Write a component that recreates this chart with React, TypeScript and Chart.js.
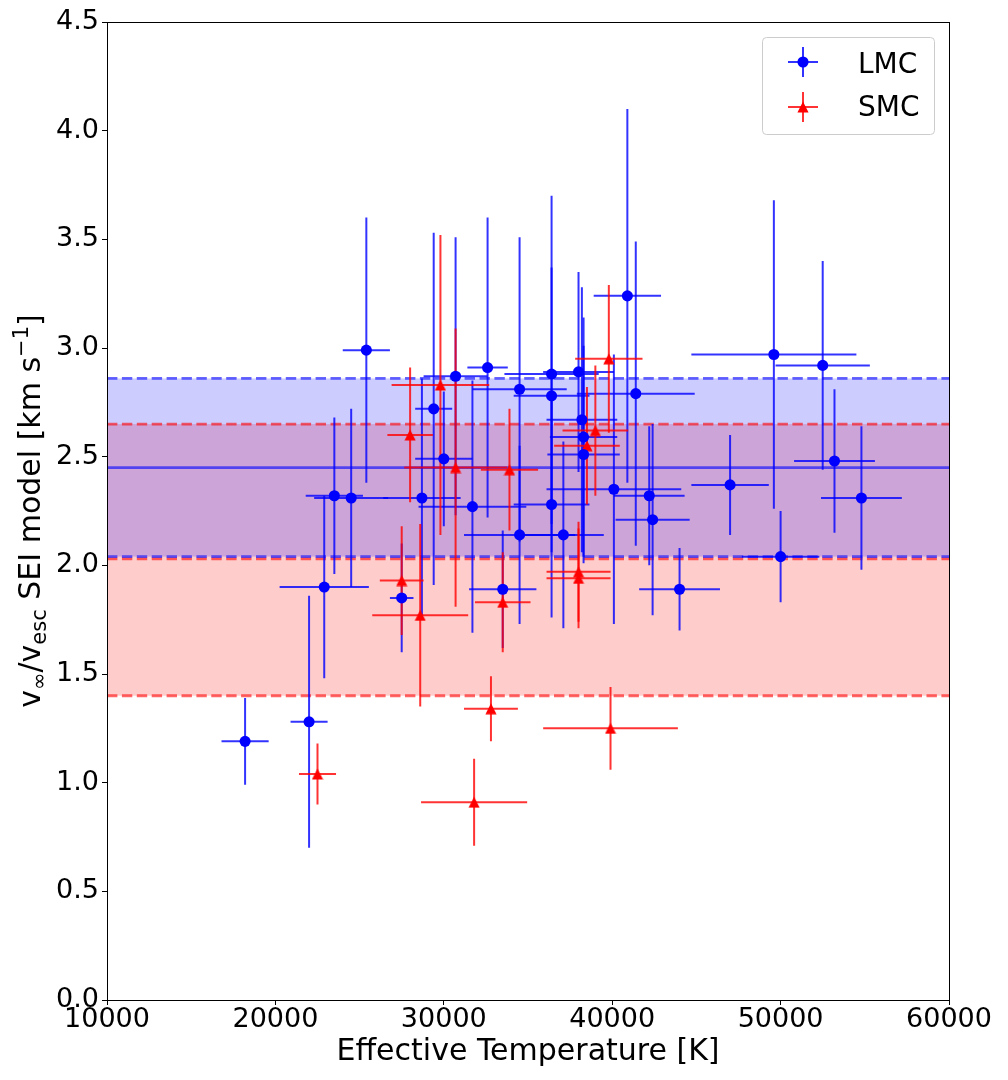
import { useEffect, useRef } from 'react';
import { Chart, registerables } from 'chart.js';

Chart.register(...registerables);

// LMC stars: effective temperature [K], v_inf / v_esc, and their errors
const lmcTeff = [18200, 22000, 22900, 23500, 24500, 25400, 27500, 28700, 29400, 30000, 30700, 31700, 32600, 33500, 34500, 34500, 36400, 36400, 36400, 37100, 38000, 38200, 38300, 38300, 40100, 40900, 41400, 42200, 42400, 44000, 47000, 49600, 50000, 52500, 53200, 54800];
const lmcTeffErr = [1400, 1100, 2650, 1700, 2200, 1400, 700, 2300, 1100, 1700, 1900, 3200, 1200, 2000, 2800, 3300, 2800, 2250, 2250, 2400, 2100, 2100, 2000, 2150, 4000, 2000, 3500, 2100, 2200, 2400, 2300, 4900, 2300, 2800, 2400, 2400];
const lmcRatio = [1.19, 1.28, 1.9, 2.32, 2.31, 2.99, 1.85, 2.31, 2.72, 2.49, 2.87, 2.27, 2.91, 1.89, 2.81, 2.14, 2.88, 2.78, 2.28, 2.14, 2.89, 2.67, 2.59, 2.51, 2.35, 3.24, 2.79, 2.32, 2.21, 1.89, 2.37, 2.97, 2.04, 2.92, 2.48, 2.31];
const lmcRatioErr = [0.2, 0.58, 0.42, 0.36, 0.41, 0.61, 0.25, 0.55, 0.81, 0.31, 0.64, 0.58, 0.69, 0.27, 0.7, 0.41, 0.82, 0.59, 0.52, 0.43, 0.46, 0.61, 0.55, 0.5, 0.62, 0.86, 0.7, 0.32, 0.44, 0.19, 0.23, 0.71, 0.21, 0.48, 0.33, 0.33];

// SMC stars
const smcTeff = [22500, 27500, 28000, 28600, 29800, 30700, 31800, 32800, 33500, 33900, 38000, 38000, 38500, 39000, 39800, 39900];
const smcTeffErr = [1100, 1300, 1350, 2850, 2900, 3050, 3150, 1600, 1650, 1700, 1900, 1900, 1950, 1950, 2000, 4000];
const smcRatio = [1.04, 1.93, 2.6, 1.77, 2.83, 2.45, 0.91, 1.34, 1.83, 2.44, 1.97, 1.94, 2.55, 2.62, 2.95, 1.25];
const smcRatioErr = [0.14, 0.25, 0.31, 0.42, 0.69, 0.64, 0.2, 0.15, 0.23, 0.28, 0.23, 0.23, 0.27, 0.3, 0.34, 0.19];

// mean and spread of each sample
const lmcMean = 2.45;
const lmcBand = [2.04, 2.86];
const smcMean = 2.03;
const smcBand = [1.4, 2.65];

const xRange = [10000, 60000];
const yRange = [0, 4.5];

const FONT = 'DejaVu Sans';
const BLUE_BAR = 'rgba(0,0,255,0.8)';
const RED_BAR = 'rgba(255,0,0,0.8)';

// matplotlib style '^' marker
function makeTriangle(color: string) {
  const c = document.createElement('canvas');
  c.width = 12;
  c.height = 12;
  const g = c.getContext('2d')!;
  g.fillStyle = color;
  g.beginPath();
  g.moveTo(6, 0.45);
  g.lineTo(0.45, 11.55);
  g.lineTo(11.55, 11.55);
  g.closePath();
  g.fill();
  return c;
}

let triangleMarker: HTMLCanvasElement | null = null;

const series = [
  { t: lmcTeff, tErr: lmcTeffErr, v: lmcRatio, vErr: lmcRatioErr, color: BLUE_BAR },
  { t: smcTeff, tErr: smcTeffErr, v: smcRatio, vErr: smcRatioErr, color: RED_BAR },
];

const backdropPlugin = {
  id: 'backdrop',
  beforeDatasetsDraw(chart: any) {
    const { ctx, chartArea: a, scales } = chart;
    const x = scales.x;
    const y = scales.y;
    ctx.save();
    ctx.beginPath();
    ctx.rect(a.left, a.top, a.right - a.left, a.bottom - a.top);
    ctx.clip();

    const band = (lo: number, hi: number, color: string) => {
      const y1 = y.getPixelForValue(hi);
      const y2 = y.getPixelForValue(lo);
      ctx.fillStyle = color;
      ctx.fillRect(a.left, y1, a.right - a.left, y2 - y1);
    };
    band(smcBand[0], smcBand[1], 'rgba(255,0,0,0.2)');
    band(lmcBand[0], lmcBand[1], 'rgba(0,0,255,0.2)');

    const hline = (v: number, color: string, dashed: boolean) => {
      const py = y.getPixelForValue(v);
      ctx.strokeStyle = color;
      ctx.lineWidth = 2.8;
      ctx.setLineDash(dashed ? [10.4, 4.5] : []);
      ctx.beginPath();
      ctx.moveTo(a.left, py);
      ctx.lineTo(a.right, py);
      ctx.stroke();
    };
    hline(smcBand[1], 'rgba(255,0,0,0.6)', true);
    hline(smcMean, 'rgba(255,0,0,0.6)', true);
    hline(smcBand[0], 'rgba(255,0,0,0.6)', true);
    hline(lmcBand[1], 'rgba(0,0,255,0.6)', true);
    hline(lmcMean, 'rgba(0,0,255,0.6)', false);
    hline(lmcBand[0], 'rgba(0,0,255,0.6)', true);
    ctx.setLineDash([]);

    // error bars
    ctx.lineWidth = 2;
    series.forEach((s) => {
      ctx.strokeStyle = s.color;
      s.t.forEach((t, i) => {
        const px = x.getPixelForValue(t);
        const py = y.getPixelForValue(s.v[i]);
        ctx.beginPath();
        ctx.moveTo(x.getPixelForValue(t - s.tErr[i]), py);
        ctx.lineTo(x.getPixelForValue(t + s.tErr[i]), py);
        ctx.moveTo(px, y.getPixelForValue(s.v[i] - s.vErr[i]));
        ctx.lineTo(px, y.getPixelForValue(s.v[i] + s.vErr[i]));
        ctx.stroke();
      });
    });
    ctx.restore();
  },
  afterDraw(chart: any) {
    const { ctx, chartArea: a } = chart;
    ctx.save();
    // frame
    ctx.strokeStyle = '#000';
    ctx.lineWidth = 1;
    ctx.strokeRect(Math.round(a.left) + 0.5, Math.round(a.top) + 0.5, Math.round(a.right - a.left), Math.round(a.bottom - a.top));

    // x title
    ctx.fillStyle = '#000';
    ctx.font = `30px "${FONT}"`;
    ctx.textAlign = 'center';
    ctx.textBaseline = 'alphabetic';
    ctx.fillText('Effective Temperature [K]', (a.left + a.right) / 2, a.bottom + 60);

    // y title with sub/superscripts
    const big = `30px "${FONT}"`;
    const small = `21px "${FONT}"`;
    const parts: [string, string, number][] = [
      ['v', big, 0],
      ['\u221e', small, 6],
      ['/', big, 0],
      ['v', big, 0],
      ['esc', small, 6],
      [' SEI model [km s', big, 0],
      ['\u22121', small, -12],
      [']', big, 0],
    ];
    let total = 0;
    parts.forEach(([txt, f]) => {
      ctx.font = f;
      total += ctx.measureText(txt).width;
    });
    ctx.translate(40, (a.top + a.bottom) / 2);
    ctx.rotate(-Math.PI / 2);
    ctx.textAlign = 'left';
    let cx = -total / 2;
    parts.forEach(([txt, f, dy]) => {
      ctx.font = f;
      ctx.fillText(txt, cx, dy);
      cx += ctx.measureText(txt).width;
    });
    ctx.restore();

    // legend
    ctx.save();
    const bx = a.right - 187;
    const by = a.top + 15;
    ctx.fillStyle = 'rgba(255,255,255,0.8)';
    ctx.strokeStyle = '#cccccc';
    ctx.lineWidth = 1;
    ctx.beginPath();
    ctx.roundRect(bx + 0.5, by + 0.5, 172, 97, 4);
    ctx.fill();
    ctx.stroke();
    const entries = [
      { label: 'LMC', bar: BLUE_BAR, dy: 25, text: 36 },
      { label: 'SMC', bar: RED_BAR, dy: 70, text: 79 },
    ];
    entries.forEach((e, i) => {
      const mx = bx + 41;
      const my = by + e.dy;
      ctx.strokeStyle = e.bar;
      ctx.lineWidth = 2;
      ctx.beginPath();
      ctx.moveTo(mx - 15, my);
      ctx.lineTo(mx + 15, my);
      ctx.moveTo(mx, my - 15);
      ctx.lineTo(mx, my + 15);
      ctx.stroke();
      if (i === 0) {
        ctx.fillStyle = '#0000ff';
        ctx.beginPath();
        ctx.arc(mx, my, 5.55, 0, Math.PI * 2);
        ctx.fill();
      } else if (triangleMarker) {
        ctx.drawImage(triangleMarker, mx - 6, my - 6);
      }
      ctx.fillStyle = '#000';
      ctx.font = `28px "${FONT}"`;
      ctx.textAlign = 'left';
      ctx.textBaseline = 'alphabetic';
      ctx.fillText(e.label, bx + 96, by + e.text);
    });
    ctx.restore();
  },
};

export default function App() {
  const canvasRef = useRef<HTMLCanvasElement>(null);

  useEffect(() => {
    if (!canvasRef.current) return;
    triangleMarker = makeTriangle('#ff0000');
    const tickFont = { family: FONT, size: 27, lineHeight: 1 };
    const chart = new Chart(canvasRef.current, {
      type: 'scatter',
      data: {
        datasets: [
          {
            label: 'LMC',
            data: lmcTeff.map((t, i) => ({ x: t, y: lmcRatio[i] })),
            pointStyle: 'circle',
            pointRadius: 5.55,
            pointBackgroundColor: '#0000ff',
            pointBorderWidth: 0,
          },
          {
            label: 'SMC',
            data: smcTeff.map((t, i) => ({ x: t, y: smcRatio[i] })),
            pointStyle: triangleMarker,
            pointRadius: 6,
            pointBorderWidth: 0,
          },
        ],
      },
      options: {
        animation: false,
        responsive: true,
        maintainAspectRatio: false,
        devicePixelRatio: 1,
        layout: { padding: { top: 22, right: 59, left: 0, bottom: 0 } },
        plugins: {
          legend: { display: false },
          tooltip: { enabled: false },
        },
        scales: {
          x: {
            type: 'linear',
            min: xRange[0],
            max: xRange[1],
            afterFit: (s: any) => {
              s.height = 80;
            },
            grid: { display: true, drawOnChartArea: false, drawTicks: true, tickLength: 5, color: '#000' },
            border: { display: false },
            ticks: {
              stepSize: 10000,
              maxRotation: 0,
              autoSkip: false,
              padding: 1,
              color: '#000',
              font: tickFont,
              callback: (v: any) => String(v),
            },
          },
          y: {
            type: 'linear',
            min: yRange[0],
            max: yRange[1],
            afterFit: (s: any) => {
              s.width = 107;
            },
            grid: { display: true, drawOnChartArea: false, drawTicks: true, tickLength: 5, color: '#000' },
            border: { display: false },
            ticks: {
              stepSize: 0.5,
              autoSkip: false,
              padding: 3,
              color: '#000',
              font: tickFont,
              callback: (v: any) => Number(v).toFixed(1),
            },
          },
        },
      },
      plugins: [backdropPlugin],
    });
    return () => chart.destroy();
  }, []);

  return (
    <div style={{ position: 'absolute', left: 0, top: 0, width: 1008, height: 1080, background: '#fff' }}>
      <canvas ref={canvasRef} />
    </div>
  );
}
